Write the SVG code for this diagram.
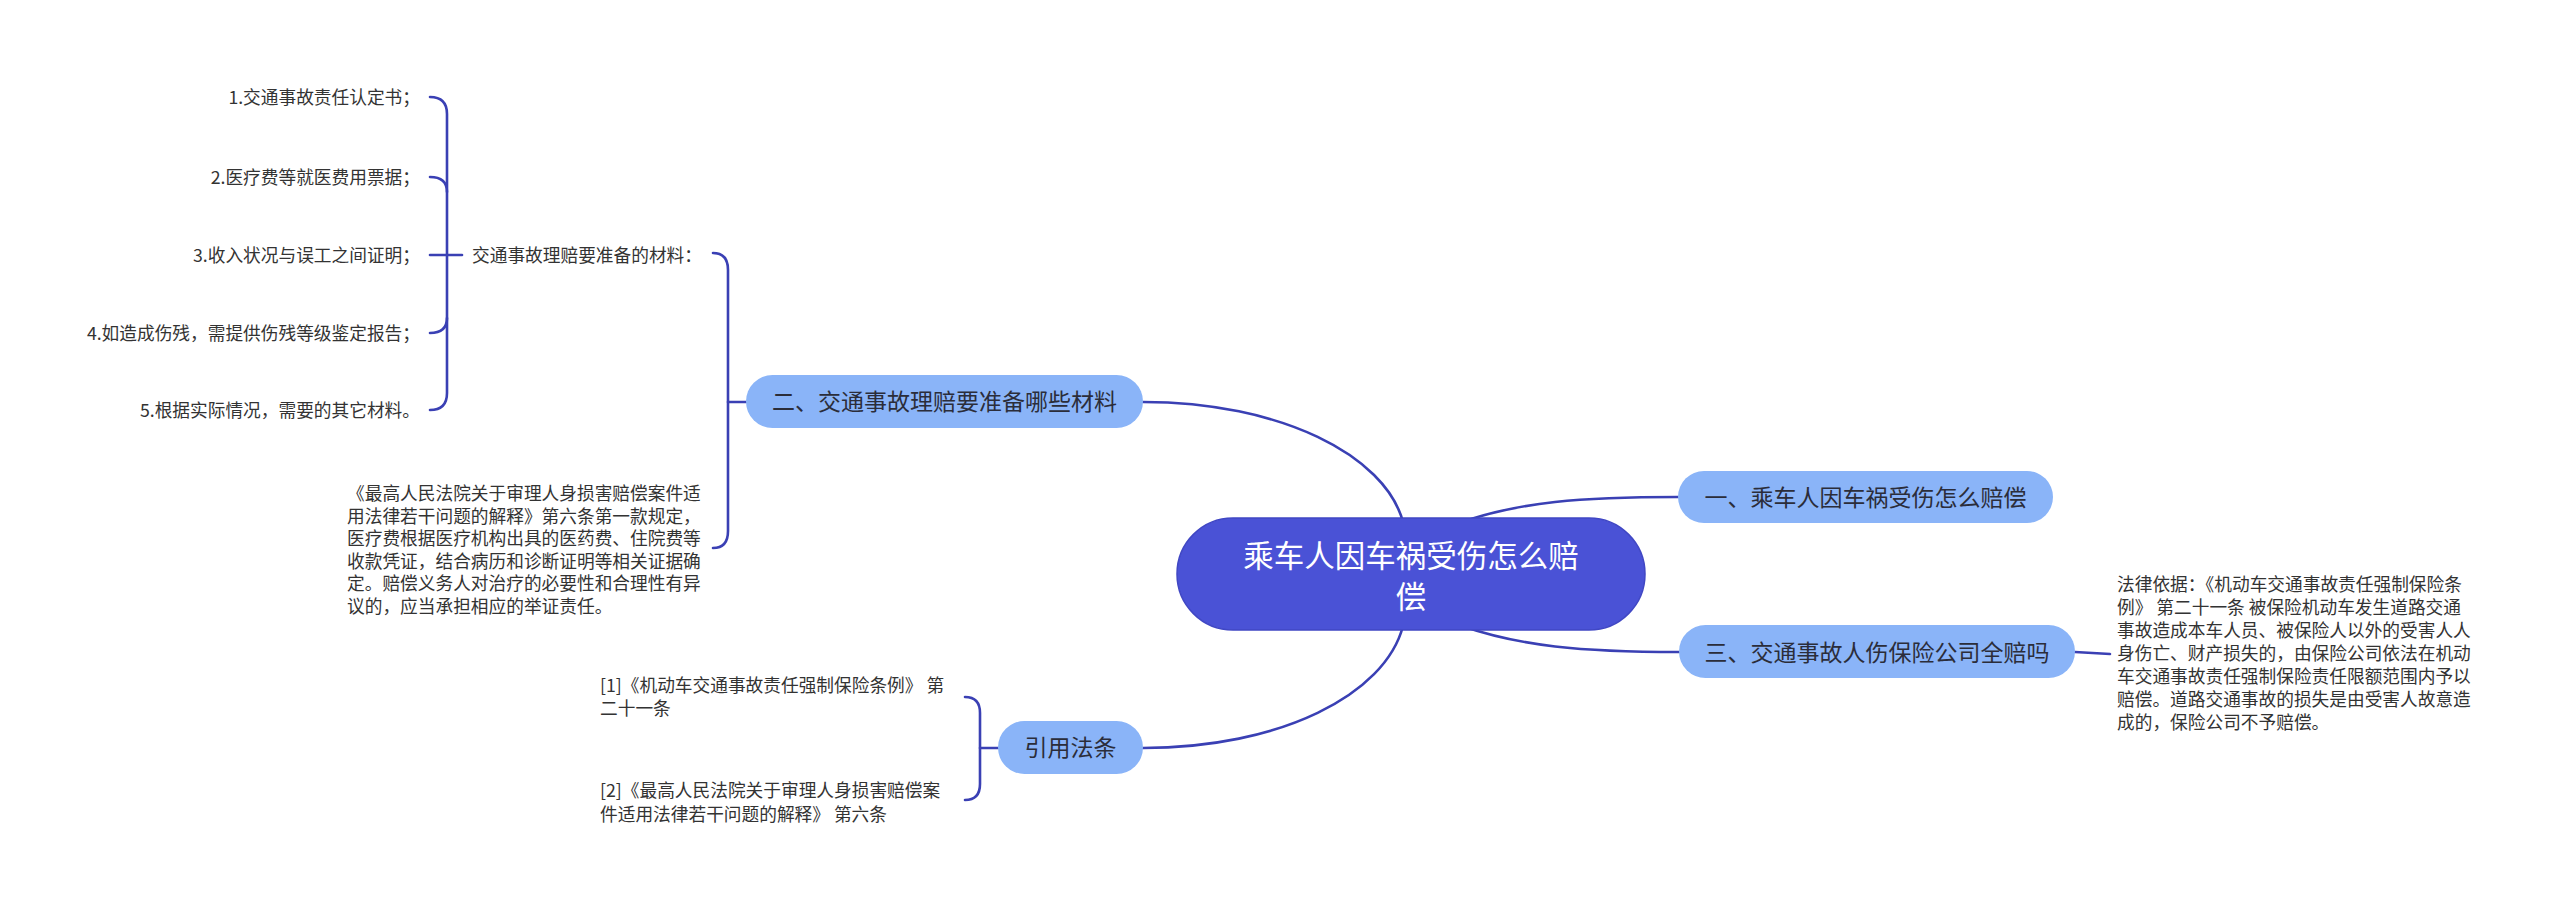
<svg xmlns="http://www.w3.org/2000/svg" width="2560" height="907" viewBox="0 0 2560 907">
<style>
.bg{fill:#ffffff}
.ln{fill:none;stroke:#3a40b4;stroke-width:2.6;stroke-linecap:round}
.root{fill:#4a52d6;stroke:#4047c4;stroke-width:1.5}
.sub{fill:#8ab4f8}
.rt{font-family:"Noto Sans CJK SC","Noto Sans",sans-serif;font-size:30.5px;fill:#ffffff;text-anchor:middle}
.st{font-family:"Noto Sans CJK SC","Noto Sans",sans-serif;font-size:23px;fill:#2b2d3a;text-anchor:middle}
.lt{font-family:"Noto Sans CJK SC","Noto Sans",sans-serif;font-size:17.7px;fill:#333333}
.ltr{font-family:"Noto Sans CJK SC","Noto Sans",sans-serif;font-size:17.7px;fill:#333333;text-anchor:end}
</style>
<rect class="bg" x="0" y="0" width="2560" height="907"/>
<g id="connectors">
<path class="ln" d="M1143,402 C1280,402 1385,455 1403,522"/>
<path class="ln" d="M1143,748 C1280,748 1385,695 1403,626"/>
<path class="ln" d="M1462,522 C1520,502 1580,497 1678,497"/>
<path class="ln" d="M1462,626 C1520,646 1580,652 1679,652"/>
<path class="ln" d="M2075,652 L2110,654"/>
<path class="ln" d="M713,253 Q728,253 728,270 L728,531 Q728,548 713,548"/>
<path class="ln" d="M728,402 L746,402"/>
<path class="ln" d="M430,97 Q447,97 447,114 L447,393 Q447,410 430,410"/>
<path class="ln" d="M430,177 Q447,177 447,192"/>
<path class="ln" d="M430,333 Q447,333 447,318"/>
<path class="ln" d="M430,255 L462,255"/>
<path class="ln" d="M965,697 Q980,697 980,713 L980,784 Q980,800 965,800"/>
<path class="ln" d="M980,748 L998,748"/>
</g>
<g id="root">
<rect class="root" x="1177" y="518" width="468" height="112" rx="56"/>
<text class="rt" x="1411" y="567">乘车人因车祸受伤怎么赔</text>
<text class="rt" x="1411" y="608">偿</text>
</g>
<g id="n1">
<rect class="sub" x="1678" y="471" width="375" height="52" rx="26"/>
<text class="st" x="1865.5" y="506">一、乘车人因车祸受伤怎么赔偿</text>
</g>
<g id="n3">
<rect class="sub" x="1679" y="625" width="396" height="53" rx="26.5"/>
<text class="st" x="1877" y="661">三、交通事故人伤保险公司全赔吗</text>
</g>
<g id="n3-text">
<text class="lt" x="2117" y="591">法律依据：《机动车交通事故责任强制保险条</text>
<text class="lt" x="2117" y="614">例》 第二十一条 被保险机动车发生道路交通</text>
<text class="lt" x="2117" y="637">事故造成本车人员、被保险人以外的受害人人</text>
<text class="lt" x="2117" y="660">身伤亡、财产损失的，由保险公司依法在机动</text>
<text class="lt" x="2117" y="683">车交通事故责任强制保险责任限额范围内予以</text>
<text class="lt" x="2117" y="706">赔偿。道路交通事故的损失是由受害人故意造</text>
<text class="lt" x="2117" y="729">成的，保险公司不予赔偿。</text>
</g>
<g id="n2">
<rect class="sub" x="746" y="375" width="397" height="53" rx="26.5"/>
<text class="st" x="944.5" y="410">二、交通事故理赔要准备哪些材料</text>
</g>
<g id="n2-materials">
<text class="lt" x="472" y="261.5">交通事故理赔要准备的材料：</text>
</g>
<g id="n2-items">
<text class="ltr" x="420" y="104">1.交通事故责任认定书；</text>
<text class="ltr" x="420" y="183.5">2.医疗费等就医费用票据；</text>
<text class="ltr" x="420" y="261.5">3.收入状况与误工之间证明；</text>
<text class="ltr" x="420" y="339.5">4.如造成伤残，需提供伤残等级鉴定报告；</text>
<text class="ltr" x="420" y="416.5">5.根据实际情况，需要的其它材料。</text>
</g>
<g id="n2-law">
<text class="lt" x="347" y="500">《最高人民法院关于审理人身损害赔偿案件适</text>
<text class="lt" x="347" y="522.6">用法律若干问题的解释》第六条第一款规定，</text>
<text class="lt" x="347" y="545.2">医疗费根据医疗机构出具的医药费、住院费等</text>
<text class="lt" x="347" y="567.8">收款凭证，结合病历和诊断证明等相关证据确</text>
<text class="lt" x="347" y="590.4">定。赔偿义务人对治疗的必要性和合理性有异</text>
<text class="lt" x="347" y="613">议的，应当承担相应的举证责任。</text>
</g>
<g id="n4">
<rect class="sub" x="998" y="721" width="145" height="53" rx="26.5"/>
<text class="st" x="1070.5" y="756">引用法条</text>
</g>
<g id="n4-refs">
<text class="lt" x="600" y="691.5">[1]《机动车交通事故责任强制保险条例》 第</text>
<text class="lt" x="600" y="715">二十一条</text>
<text class="lt" x="600" y="797">[2]《最高人民法院关于审理人身损害赔偿案</text>
<text class="lt" x="600" y="820.5">件适用法律若干问题的解释》 第六条</text>
</g>
</svg>
